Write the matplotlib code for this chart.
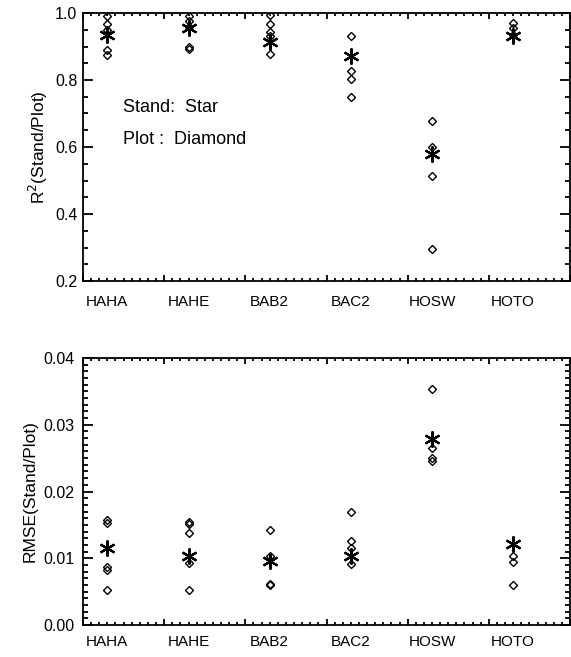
import matplotlib
matplotlib.use('Agg')
import matplotlib.pyplot as plt
from matplotlib.ticker import MultipleLocator, FixedLocator
import numpy as np

plt.rcParams['font.family'] = ['Liberation Sans', 'DejaVu Sans']

# stations and values
stations = ['HAHA', 'HAHE', 'BAB2', 'BAC2', 'HOSW', 'HOTO']

r2_stand = [0.934, 0.954, 0.914, 0.871, 0.578, 0.931]
r2_plot = [
    [0.992, 0.967, 0.949, 0.890, 0.875],
    [0.992, 0.977, 0.957, 0.899, 0.892],
    [0.994, 0.967, 0.942, 0.932, 0.879],
    [0.931, 0.826, 0.802, 0.749],
    [0.677, 0.599, 0.512, 0.295],
    [0.971, 0.954, 0.935],
]

rmse_stand = [0.0115, 0.0103, 0.0096, 0.0103, 0.0278, 0.0121]
rmse_plot = [
    [0.0157, 0.0153, 0.0087, 0.0082, 0.0053],
    [0.0155, 0.0151, 0.0138, 0.0093, 0.0053],
    [0.0143, 0.0104, 0.0062, 0.0060],
    [0.0169, 0.0126, 0.0116, 0.0091],
    [0.0354, 0.0265, 0.0250, 0.0246],
    [0.0104, 0.0095, 0.0060],
]

W, H = 571, 657
fig = plt.figure(figsize=(W/100., H/100.), dpi=100)
ax1 = fig.add_axes([83./W, 1-281./H, 487./W, 268./H])
ax2 = fig.add_axes([83./W, 1-625./H, 487./W, 267./H])

xpos = np.arange(1, len(stations)+1)
star = (6, 2, 0)


def draw(ax, stand, plot, ylab, ylim, major, minor, ypad, xpad):
    for i in range(len(stations)):
        ax.plot([xpos[i]]*len(plot[i]), plot[i], 'D', ms=3.7, mfc='none',
                mec='k', mew=1.0, ls='none')
    ax.plot(xpos, stand, marker=star, ms=11.5, mew=1.6, color='k', ls='none')
    ax.set_xlim(0.7, 6.7)
    ax.set_ylim(ylim)
    ax.xaxis.set_major_locator(FixedLocator(0.7 + np.arange(7)))
    ax.xaxis.set_minor_locator(FixedLocator(0.7 + np.arange(61)*0.1))
    ax.set_xticklabels([])
    ax.yaxis.set_major_locator(MultipleLocator(major))
    ax.yaxis.set_minor_locator(MultipleLocator(minor))
    ax.tick_params(which='both', direction='in', top=True, right=True, width=1.3)
    ax.tick_params(axis='y', which='major', length=7.5, labelsize=11.5, pad=ypad)
    ax.tick_params(axis='y', which='minor', length=3.8)
    ax.tick_params(axis='x', which='major', length=4)
    ax.tick_params(axis='x', which='minor', length=2)
    for s in ax.spines.values():
        s.set_linewidth(1.3)
    ax.set_ylabel(ylab, fontsize=12.5)
    # station names sit between the ticks
    sec = ax.secondary_xaxis('bottom')
    sec.set_xticks(xpos, stations)
    sec.tick_params(length=0, labelsize=11, pad=xpad)
    sec.spines['bottom'].set_visible(False)


draw(ax1, r2_stand, r2_plot, r'R$^2$(Stand/Plot)', (0.2, 1.0), 0.2, 0.05, 4, 10)
draw(ax2, rmse_stand, rmse_plot, 'RMSE(Stand/Plot)', (0.0, 0.04), 0.01, 0.001, 6, 7)
ax1.yaxis.set_major_formatter(plt.FormatStrFormatter('%.1f'))
ax2.yaxis.set_major_formatter(plt.FormatStrFormatter('%.2f'))

ax1.text(1.19, 0.719, 'Stand:  Star', fontsize=13, va='center')
ax1.text(1.19, 0.621, 'Plot :  Diamond', fontsize=13, va='center')

fig.savefig('out.png', dpi=100)
